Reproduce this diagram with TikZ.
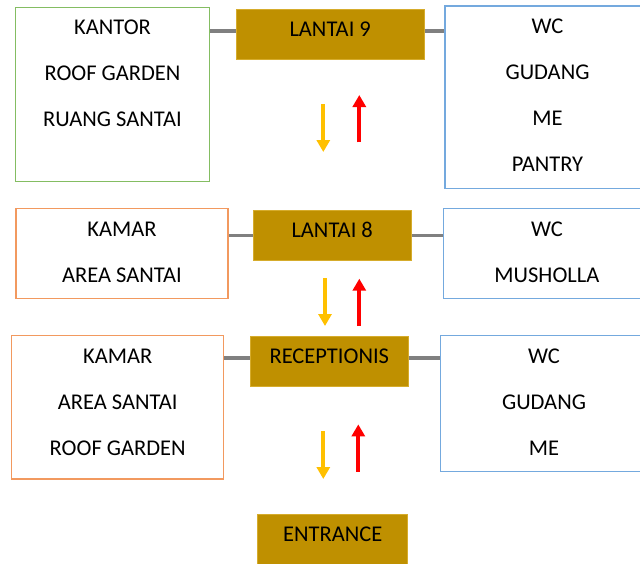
\documentclass[tikz,border=0pt]{standalone}
\usepackage{fontspec}
\setmainfont{Carlito}
\usepackage{tikz}
\usetikzlibrary{arrows.meta}
\definecolor{emas}{HTML}{BF9000}
\definecolor{emasgaris}{HTML}{D6AC2C}
\definecolor{hijau}{HTML}{84BD62}
\definecolor{oranye}{HTML}{F2995F}
\definecolor{biru}{HTML}{74A9DE}
\definecolor{abu}{HTML}{808080}
\definecolor{kuning}{HTML}{FFC000}
\definecolor{merah}{HTML}{FF0000}

\begin{document}
\begin{tikzpicture}[x=1pt,y=-1pt,
  every node/.style={font=\fontsize{22.5}{27}\selectfont},
  ruang/.style={draw=#1, line width=1.2pt, inner sep=0pt},
  lantai/.style={fill=emas, draw=emasgaris, line width=0.8pt, inner sep=0pt,
    anchor=north, text height=27.5pt, text depth=23pt},
  isi/.style={anchor=base, inner sep=0pt},
  hub/.style={draw=abu, line width=3.5pt},
  turun/.style={draw=kuning, line width=4pt, -{Triangle[width=13pt,length=12pt]}},
  naik/.style={draw=merah, line width=4pt, -{Triangle[width=13pt,length=12pt]}}]
  \path[use as bounding box, fill=white] (0,0) rectangle (640,563);
  \clip (0,0) rectangle (640,563);

  % lantai
  \node[lantai, minimum width=188pt] (l9) at (330.2,8.5) {LANTAI 9};
  \node[lantai, minimum width=158pt] (l8) at (332.2,209.7) {LANTAI 8};
  \node[lantai, minimum width=158pt] (rec) at (329.3,335.7) {RECEPTIONIS};
  \node[lantai, minimum width=150pt] (ent) at (332.8,514) {ENTRANCE};

  % ruang kiri dan kanan
  \node[ruang=hijau, minimum width=193.6pt, minimum height=174.4pt] (k9) at (112.5,94.5) {};
  \node[ruang=biru, minimum width=205pt, minimum height=182.7pt] (r9) at (547.5,97.3) {};
  \node[ruang=oranye, minimum width=212pt, minimum height=89.6pt] (k8) at (122,253.5) {};
  \node[ruang=biru, minimum width=206.3pt, minimum height=89.6pt] (r8) at (546.9,253.5) {};
  \node[ruang=oranye, minimum width=212pt, minimum height=143.3pt] (k7) at (117.7,407.3) {};
  \node[ruang=biru, minimum width=206.6pt, minimum height=136pt] (r7) at (544,403.7) {};

  \foreach \kotak/\daftar in {k9/{KANTOR,ROOF GARDEN,RUANG SANTAI},
      r9/{WC,GUDANG,ME,PANTRY}, k8/{KAMAR,AREA SANTAI}, r8/{WC,MUSHOLLA},
      k7/{KAMAR,AREA SANTAI,ROOF GARDEN}, r7/{WC,GUDANG,ME}}
    \foreach \teks [count=\i] in \daftar
      \node[isi] (\kotak-\i) at ([yshift={-28pt-46pt*(\i-1)}]\kotak.north) {\teks};

  % garis penghubung
  \draw[hub] ([yshift=3pt]l9.west) -- ([yshift=3pt]l9.west -| k9.east);
  \draw[hub] ([yshift=3pt]l9.east) -- ([yshift=3pt]l9.east -| r9.west);
  \draw[hub] (l8.west) -- (l8.west -| k8.east);
  \draw[hub] (l8.east) -- (l8.east -| r8.west);
  \draw[hub] ([yshift=3.5pt]rec.west) -- ([yshift=3.5pt]rec.west -| k7.east);
  \draw[hub] ([yshift=3.5pt]rec.east) -- ([yshift=3.5pt]rec.east -| r7.west);

  % panah turun naik
  \foreach \i/\xk/\yk/\xm/\ym in {1/323.3/104/359.3/142.3, 2/325/278/359.3/326,
      3/323.3/431/358.3/471.7} {
    \coordinate (turun-\i) at (\xk,\yk);
    \coordinate (naik-\i) at (\xm,\ym);
    \draw[turun] (turun-\i) -- ++(0,48);
    \draw[naik] (naik-\i) -- ++(0,-47.3);
  }
\end{tikzpicture}
\end{document}
